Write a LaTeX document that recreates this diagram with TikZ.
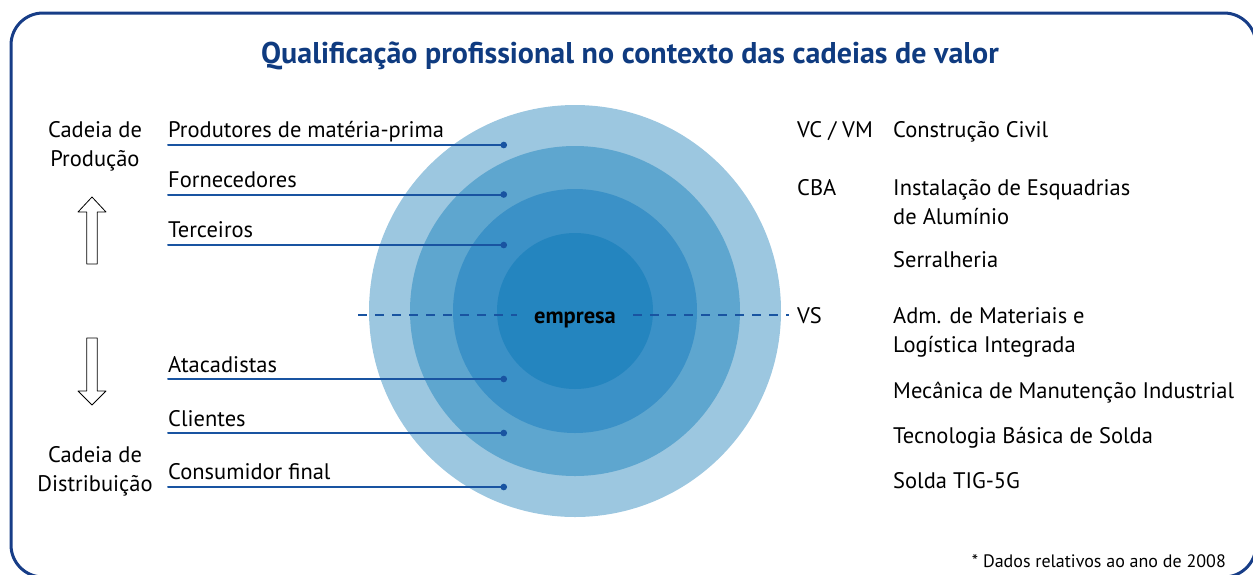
\documentclass[tikz,border=0pt]{standalone}
\usepackage{fontspec}
\setmainfont{PT Sans}
\usetikzlibrary{arrows.meta}
\definecolor{c9bc6e1}{rgb}{0.61,0.78,0.88}
\definecolor{c5ea5cf}{rgb}{0.37,0.65,0.81}
\definecolor{c3a91c6}{rgb}{0.23,0.57,0.78}
\definecolor{c2385bf}{rgb}{0.14,0.52,0.75}
\definecolor{c1a55a0}{rgb}{0.10,0.33,0.63}
\definecolor{c0f3b7f}{rgb}{0.06,0.23,0.50}
\definecolor{c163c87}{rgb}{0.09,0.24,0.53}

\begin{document}
\begin{tikzpicture}[line cap=round,line join=round,x=1pt,y=-1pt,
  lbl/.style={anchor=base west,inner sep=0pt,font=\fontsize{22.5}{27}\selectfont},
  chainlbl/.style={anchor=base,inner sep=0pt,font=\fontsize{22.5}{27}\selectfont},
  leader/.style={line width=2pt,color=c1a55a0,-{Circle[length=6.5pt]}},
  dashline/.style={line width=2pt,color=c1a55a0,dash pattern=on 9pt off 8pt,line cap=butt},
  blockarrow/.style={line width=0.8pt,fill=white}]
\useasboundingbox (0,0) rectangle (1253,574);
\draw [line width=3pt,color=c163c87,rounded corners=32pt] (11,13) rectangle (1256,577);
% title
\node (title) at (630,63) [anchor=base,inner sep=0pt,text=c0f3b7f,font=\bfseries\fontsize{30}{36}\selectfont] {Qualificação profissional no contexto das cadeias de valor};
% circles
\fill [color=c9bc6e1] (575,311) circle (206pt);
\fill [color=c5ea5cf] (575,311) circle (165pt);
\fill [color=c3a91c6] (575,311) circle (122pt);
\fill [color=c2385bf] (575,311) circle (78pt);
% chains
\node [chainlbl] (cadA) at (95,137) {Cadeia de};
\node [chainlbl] (prodc) at (95,166) {Produção};
\node [chainlbl] (cadB) at (95,462) {Cadeia de};
\node [chainlbl] (distc) at (95,491) {Distribuição};
\draw [blockarrow] (86.7,264) -- (86.7,212) -- (78,212) -- (92,197) -- (106,212) -- (97.3,212) -- (97.3,264) -- cycle;
\draw [blockarrow] (86.7,338) -- (86.7,391) -- (78,391) -- (92,405) -- (106,391) -- (97.3,391) -- (97.3,338) -- cycle;
% left labels
\node [lbl] (prod) at (168,137) {Produtores de matéria-prima};
\node [lbl] (forn) at (168,187) {Fornecedores};
\node [lbl] (terc) at (168,237) {Terceiros};
\node [lbl] (atac) at (168,372) {Atacadistas};
\node [lbl] (clie) at (168,426) {Clientes};
\node [lbl] (cons) at (168,479) {Consumidor final};
\coordinate (prodDot) at (507,145);
\coordinate (fornDot) at (507,194.5);
\coordinate (tercDot) at (507,245);
\coordinate (atacDot) at (507,379);
\coordinate (clieDot) at (507,433);
\coordinate (consDot) at (507,487);
\draw [leader] (prod.west |- prodDot) -- (prodDot);
\draw [leader] (forn.west |- fornDot) -- (fornDot);
\draw [leader] (terc.west |- tercDot) -- (tercDot);
\draw [leader] (atac.west |- atacDot) -- (atacDot);
\draw [leader] (clie.west |- clieDot) -- (clieDot);
\draw [leader] (cons.west |- consDot) -- (consDot);
% right column
\node [lbl] (vcvm) at (797,137) {VC / VM};
\node [lbl] (cba) at (797,195) {CBA};
\node [lbl] (vs) at (797,323) {VS};
\node [lbl] (civil) at (893,137) {Construção Civil};
\node [lbl] (esqA) at (893,195) {Instalação de Esquadrias};
\node [lbl] (esqB) at (893,224) {de Alumínio};
\node [lbl] (serr) at (893,267) {Serralheria};
\node [lbl] (admA) at (893,323) {Adm. de Materiais e};
\node [lbl] (admB) at (893,352) {Logística Integrada};
\node [lbl] (mec) at (893,398) {Mecânica de Manutenção Industrial};
\node [lbl] (tec) at (893,443) {Tecnologia Básica de Solda};
\node [lbl] (tig) at (893,488) {Solda TIG-5G};
% empresa
\node (empresa) at (575,323) [anchor=base,inner ysep=0pt,inner xsep=17pt,font=\bfseries\fontsize{22.5}{27}\selectfont] {empresa};
\coordinate (dashL) at (358,315);
\draw [dashline] (dashL) -- (dashL -| empresa.west);
\draw [dashline] (empresa.east |- dashL) -- ([xshift=-8pt]dashL -| vs.west);
\node (nota) at (1226,567) [anchor=base east,inner sep=0pt,font=\fontsize{18}{21}\selectfont] {* Dados relativos ao ano de 2008};
\end{tikzpicture}
\end{document}
